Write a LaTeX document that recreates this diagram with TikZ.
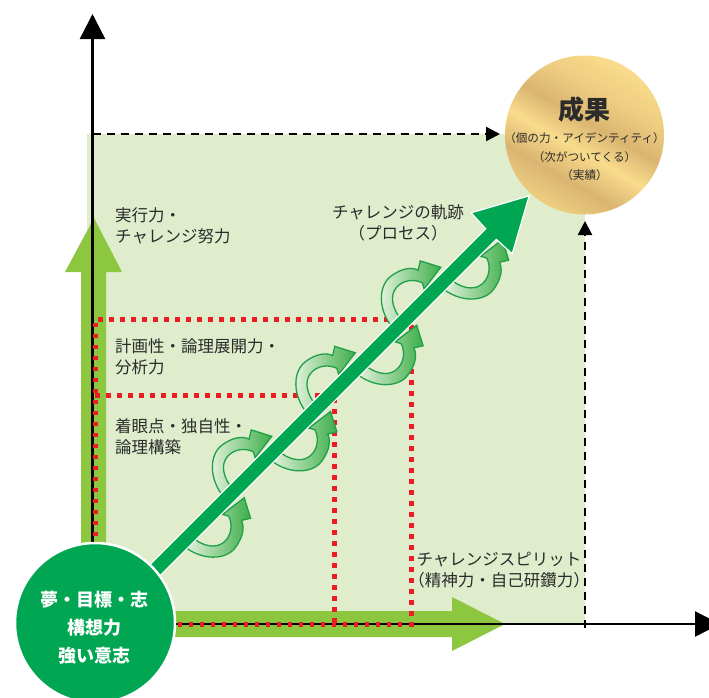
\documentclass[tikz,border=0pt]{standalone}
\usepackage{fontspec}
\newfontfamily\jp{Noto Sans CJK JP}
\usetikzlibrary{arrows.meta}

\definecolor{bgpale}{HTML}{DFEDCC}
\definecolor{lime}{HTML}{8DC63F}
\definecolor{leaf}{HTML}{00A651}
\definecolor{dotred}{HTML}{ED1C24}
\definecolor{ink}{HTML}{2B2B2B}
\definecolor{goldA}{HTML}{F9DC8C}
\definecolor{goldB}{HTML}{DAB571}
\definecolor{goldC}{HTML}{EECD80}
\definecolor{swirlpale}{HTML}{EAF5E2}
\definecolor{swirlgreen}{HTML}{3DAE4A}
\definecolor{swirledge}{HTML}{1FA048}

\pgfdeclarehorizontalshading{goldsheen}{100bp}{%
  color(0bp)=(goldA); color(25bp)=(goldC); color(35bp)=(goldB);
  color(45bp)=(goldA); color(54bp)=(goldB); color(64bp)=(goldC);
  color(75bp)=(goldA); color(100bp)=(goldA)}

\tikzset{
  axisline/.style={line width=2.4pt, black},
  guide/.style={line width=2.4pt, black, dash pattern=on 8pt off 6pt,
    -{Triangle[length=14pt,width=14pt]}},
  reddots/.style={line width=5pt, dotred, dash pattern=on 4.5pt off 6.5pt},
  lbl/.style={inner sep=0pt, text=ink, font=\jp\fontsize{16.5}{21}\selectfont},
  swirlline/.style={draw=swirledge, line width=1.3pt, left color=swirlpale, right color=swirlgreen},
  % a curled ribbon arrow that wraps around the trajectory
  pics/swirl/.style={code={
    \path[swirlline] (0,-2) .. controls (2,-27) and (20,-43) .. (35,-41)
      .. controls (50,-39) and (57,-32) .. (59,-26)
      -- (67,-31) -- (77,-12) -- (50,-8.5) -- (53,-14)
      .. controls (50,-23) and (41,-30) .. (31,-29)
      .. controls (20,-28) and (13,-16) .. (12,-2) -- cycle;
  }},
}

\begin{document}
\begin{tikzpicture}[x=1pt,y=-1pt]
\useasboundingbox (0,0) rectangle (709,697);
\clip (0,0) rectangle (709,697);

% pale field behind the chart
\fill[bgpale] (87,134) rectangle (585,624);

% lime L-shaped double arrow along both axes
\fill[lime] (81,637) -- (81,272) -- (65,272) -- (94,218) -- (122,272) -- (106,272)
  -- (106,611) -- (452,611) -- (452,597) -- (505,624) -- (452,651) -- (452,637) -- cycle;

% axes
\draw[axisline, -{Triangle[length=25pt,width=25pt]}] (92.5,660) -- (92.5,14);
\draw[axisline, -{Triangle[length=25pt,width=25pt]}] (80,624) -- (720,624);

% dashed guides
\draw[guide] (92.5,134) -- (500,134);
\draw[guide] (585,628) -- (585,221);

% red dotted frames
\draw[reddots] (95,624) -- (95,319) -- (411,319) -- (411,624) -- cycle;
\draw[reddots] (95,395) -- (334,395) -- (334,624);

% swirls below the trajectory
\foreach \a/\b in {181.3/543.7, 267.6/457.4, 353.8/371.2, 439.4/285.6} {
  \begin{scope}[shift={(\a,\b)}, x={(0.707pt,0.707pt)}, y={(-0.707pt,0.707pt)}]
    \pic {swirl};
  \end{scope}
}
% swirls above the trajectory
\foreach \a/\b in {225.8/499.2, 309.3/415.7, 394.8/330.2} {
  \begin{scope}[shift={(\a,\b)}, x={(0.707pt,0.707pt)}, y={(0.707pt,-0.707pt)}]
    \pic {swirl};
  \end{scope}
}

% trajectory arrow
\begin{scope}[shift={(100,625)}, x={(0.707pt,0.707pt)}, y={(-0.707pt,0.707pt)}]
  \filldraw[fill=leaf, draw=white, line width=1.2pt]
    (0,-7.5) -- (553,-7.5) -- (554,-29) -- (607,0) -- (554,29) -- (553,7.5) -- (0,7.5) -- cycle;
\end{scope}

% result circle
\node (result) [circle, minimum size=159pt, inner sep=0pt, shading=goldsheen, shading angle=60] at (584.5,135) {};
\node (resulttitle) [inner sep=0pt, text=ink, font=\jp\bfseries\fontsize{26}{26}\selectfont] at (584.5,110) {成果};
\node (resultsub) [inner sep=0pt, text=ink, align=center, font=\jp\fontsize{11.6}{18.5}\selectfont]
  at (584.5,157) {（個の力・アイデンティティ）\\（次がついてくる）\\（実績）};

% origin circle
\node (dream) [circle, fill=leaf, draw=white, line width=2.5pt, minimum size=160pt, inner sep=0pt] at (95,623) {};
\node (dreamtext) [inner sep=0pt, text=white, align=center, font=\jp\bfseries\fontsize{18}{28}\selectfont]
  at (94,628) {夢・目標・志\\構想力\\強い意志};

% labels
\node (exec) [lbl, anchor=west, align=left] at (115,226) {実行力・\\チャレンジ努力};
\node (plan) [lbl, anchor=west, align=left] at (115,357) {計画性・論理展開力・\\分析力};
\node (idea) [lbl, anchor=west, align=left] at (115,437) {着眼点・独自性・\\論理構築};
\node (track) [lbl, align=center] at (398,223) {チャレンジの軌跡\\（プロセス）};
\node (spirit) [lbl, align=center] at (499,570) {チャレンジスピリット\\（精神力・自己研鑽力）};
\end{tikzpicture}
\end{document}
